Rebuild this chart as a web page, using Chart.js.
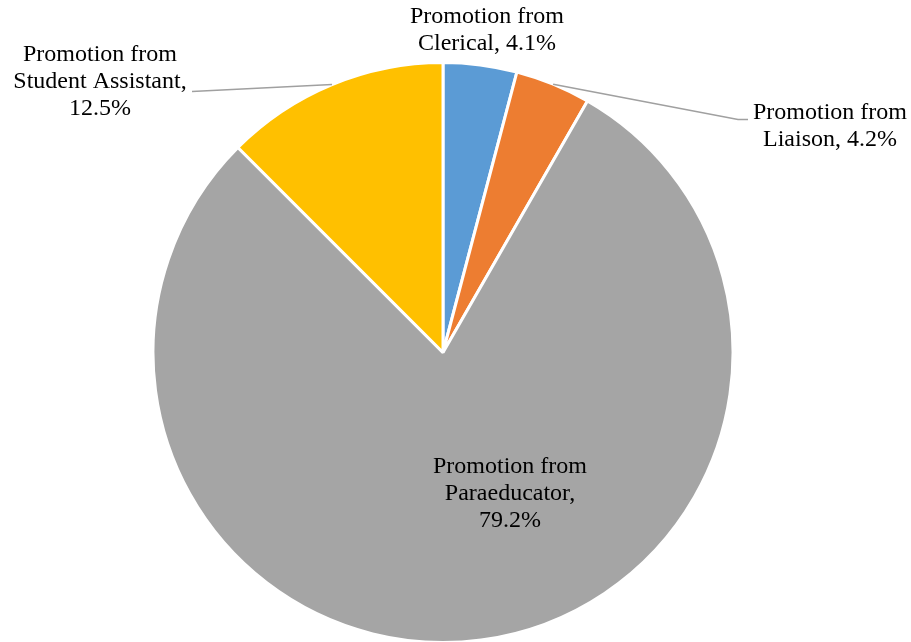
<!DOCTYPE html>
<html>
<head>
<meta charset="utf-8">
<script src="https://cdn.jsdelivr.net/npm/chart.js@4.4.0/dist/chart.umd.min.js"></script>
<style>
  html, body { margin: 0; padding: 0; background: #fff; overflow: hidden; }
  #wrap { position: relative; width: 911px; height: 645px; }
</style>
</head>
<body>
<div id="wrap"><canvas id="pie"></canvas></div>
<script>
var categories = ['Promotion from Clerical', 'Promotion from Liaison', 'Promotion from Paraeducator', 'Promotion from Student Assistant'];
var percents = [4.1, 4.2, 79.2, 12.5];
var colors = ['#5B9BD5', '#ED7D31', '#A5A5A5', '#FFC000'];

// label placement, offsets from the pie centre (px); leader = where the line ends
var labelLayout = [
    {lines: ['Promotion from', 'Clerical, 4.1%'], dx: 44, dy: -336},
    {lines: ['Promotion from', 'Liaison, 4.2%'], dx: 387, dy: -240, leader: [[295, -233], [305, -233]]},
    {lines: ['Promotion from', 'Paraeducator,', '79.2%'], dx: 67, dy: 114},
    {lines: ['Promotion from', 'Student Assistant,', '12.5%'], dx: -343, dy: -298, leader: [[-251, -261]]}
];

var pieLabels = {
    id: 'pieLabels',
    afterDatasetsDraw: function(chart) {
        var ctx = chart.ctx;
        var meta = chart.getDatasetMeta(0);
        ctx.save();
        meta.data.forEach(function(arc, i) {
            var p = arc.getProps(['x', 'y', 'startAngle', 'endAngle', 'outerRadius'], true);
            var lay = labelLayout[i];
            if (lay.leader) {
                var mid = (p.startAngle + p.endAngle) / 2;
                ctx.beginPath();
                ctx.moveTo(p.x + Math.cos(mid) * p.outerRadius, p.y + Math.sin(mid) * p.outerRadius);
                lay.leader.forEach(function(pt) {
                    ctx.lineTo(p.x + pt[0], p.y + pt[1]);
                });
                ctx.strokeStyle = '#A0A0A0';
                ctx.lineWidth = 1.6;
                ctx.stroke();
            }
            ctx.fillStyle = '#000';
            ctx.font = '24px "Liberation Serif", "Times New Roman", serif';
            ctx.textAlign = 'center';
            ctx.textBaseline = 'middle';
            lay.lines.forEach(function(t, k) {
                ctx.fillText(t, p.x + lay.dx, p.y + lay.dy + k * 27);
            });
        });
        ctx.restore();
    }
};

new Chart(document.getElementById('pie'), {
    type: 'pie',
    data: {
        labels: categories,
        datasets: [{
            data: percents,
            backgroundColor: colors,
            borderColor: '#FFFFFF',
            borderWidth: 3
        }]
    },
    options: {
        responsive: true,
        maintainAspectRatio: false,
        animation: false,
        layout: { padding: { top: 61, bottom: 1, left: 0, right: 25 } },
        plugins: {
            legend: { display: false },
            tooltip: { enabled: false }
        }
    },
    plugins: [pieLabels]
});
</script>
</body>
</html>
